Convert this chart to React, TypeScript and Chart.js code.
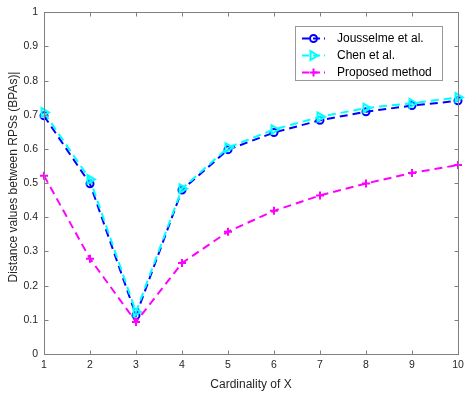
import React, { useEffect, useRef } from "react";
import { Chart, registerables } from "chart.js";

Chart.register(...registerables);

const cardinality = [1, 2, 3, 4, 5, 6, 7, 8, 9, 10];
const jousselme = [0.697, 0.498, 0.113, 0.48, 0.598, 0.648, 0.684, 0.709, 0.727, 0.741];
const chen = [0.707, 0.511, 0.123, 0.484, 0.604, 0.657, 0.694, 0.72, 0.734, 0.751];
const proposed = [0.522, 0.279, 0.094, 0.266, 0.358, 0.419, 0.464, 0.499, 0.53, 0.553];
const seriesNames = ["Jousselme et al.", "Chen et al.", "Proposed method"];
const xTitle = "Cardinality of X";
const yTitle = "Distance values between RPSs (BPAs)|";

const FONT = "'Liberation Sans', Arial, Helvetica, sans-serif";
const AXIS_COLOR = "#808080";
const TEXT_COLOR = "#262626";
const DASH = [8, 5];

function drawMarker(ctx: CanvasRenderingContext2D, kind: number, x: number, y: number, color: string) {
  ctx.save();
  ctx.setLineDash([]);
  ctx.strokeStyle = color;
  ctx.lineWidth = 2;
  ctx.beginPath();
  if (kind === 0) {
    ctx.arc(x, y, 3.5, 0, Math.PI * 2);
  } else if (kind === 1) {
    ctx.moveTo(x + 4.5, y);
    ctx.lineTo(x - 3, y - 4.5);
    ctx.lineTo(x - 3, y + 4.5);
    ctx.closePath();
  } else {
    ctx.moveTo(x - 4, y);
    ctx.lineTo(x + 4, y);
    ctx.moveTo(x, y - 4);
    ctx.lineTo(x, y + 4);
  }
  ctx.stroke();
  ctx.restore();
}

const framePlugin = {
  id: "frame",
  afterDraw(chart: any) {
    const ctx: CanvasRenderingContext2D = chart.ctx;
    const { left, right, top, bottom } = chart.chartArea;
    const xs = chart.scales.x;
    const ys = chart.scales.y;
    ctx.save();
    ctx.strokeStyle = AXIS_COLOR;
    ctx.lineWidth = 1;
    ctx.setLineDash([]);
    const L = Math.round(left) + 0.5, R = Math.round(right) + 0.5;
    const T = Math.round(top) + 0.5, B = Math.round(bottom) + 0.5;
    ctx.strokeRect(L, T, R - L, B - T);
    ctx.beginPath();
    xs.ticks.forEach((t: any) => {
      const px = Math.round(xs.getPixelForValue(t.value)) + 0.5;
      ctx.moveTo(px, B); ctx.lineTo(px, B - 4);
      ctx.moveTo(px, T); ctx.lineTo(px, T + 4);
    });
    ys.ticks.forEach((t: any) => {
      const py = Math.round(ys.getPixelForValue(t.value)) + 0.5;
      ctx.moveTo(L, py); ctx.lineTo(L + 4, py);
      ctx.moveTo(R, py); ctx.lineTo(R - 4, py);
    });
    ctx.stroke();

    // axis titles
    ctx.fillStyle = TEXT_COLOR;
    ctx.font = `12px ${FONT}`;
    ctx.textAlign = "center";
    ctx.textBaseline = "middle";
    ctx.fillText(xTitle, (left + right) / 2, 385);
    ctx.save();
    ctx.translate(14, 177);
    ctx.rotate(-Math.PI / 2);
    ctx.fillText(yTitle, 0, 0);
    ctx.restore();

    // legend
    const bx = 295.5, by = 26.5, bw = 147, bh = 54;
    ctx.fillStyle = "#ffffff";
    ctx.fillRect(bx, by, bw, bh);
    ctx.strokeStyle = "#999999";
    ctx.strokeRect(bx, by, bw, bh);
    const colors = ["#0000ff", "#00ffff", "#ff00ff"];
    seriesNames.forEach((name, i) => {
      const yy = 38.5 + i * 17;
      ctx.save();
      ctx.strokeStyle = colors[i];
      ctx.lineWidth = 2;
      ctx.setLineDash([7, 4]);
      ctx.beginPath();
      ctx.moveTo(302, yy);
      ctx.lineTo(325, yy);
      ctx.stroke();
      ctx.restore();
      drawMarker(ctx, i, 313.5, yy, colors[i]);
      ctx.fillStyle = "#000000";
      ctx.font = `12px ${FONT}`;
      ctx.textAlign = "left";
      ctx.textBaseline = "middle";
      ctx.fillText(name, 337, yy);
    });
    ctx.restore();
  },
};

export default function App() {
  const ref = useRef<HTMLCanvasElement>(null);
  useEffect(() => {
    if (!ref.current) return;
    const mk = (vals: number[]) => cardinality.map((c, i) => ({ x: c, y: vals[i] }));
    const chart = new Chart(ref.current, {
      type: "line",
      data: {
        datasets: [
          {
            label: seriesNames[0],
            data: mk(jousselme),
            borderColor: "#0000ff",
            backgroundColor: "rgba(0,0,0,0)",
            borderWidth: 2,
            borderDash: DASH,
            pointStyle: "circle",
            pointRadius: 3.5,
            pointBorderWidth: 2,
            pointBorderColor: "#0000ff",
            pointBackgroundColor: "rgba(0,0,0,0)",
            tension: 0,
            clip: false as any,
            order: 3,
          },
          {
            label: seriesNames[1],
            data: mk(chen),
            borderColor: "#00ffff",
            backgroundColor: "rgba(0,0,0,0)",
            borderWidth: 2,
            borderDash: DASH,
            pointStyle: "triangle",
            pointRotation: 90,
            pointRadius: 5,
            pointBorderWidth: 2,
            pointBorderColor: "#00ffff",
            pointBackgroundColor: "rgba(0,0,0,0)",
            tension: 0,
            clip: false as any,
            order: 2,
          },
          {
            label: seriesNames[2],
            data: mk(proposed),
            borderColor: "#ff00ff",
            backgroundColor: "rgba(0,0,0,0)",
            borderWidth: 2,
            borderDash: DASH,
            pointStyle: "cross",
            pointRadius: 4,
            pointBorderWidth: 2,
            pointBorderColor: "#ff00ff",
            tension: 0,
            clip: false as any,
            order: 1,
          },
        ],
      },
      options: {
        responsive: false,
        animation: false,
        layout: { padding: { left: 0, right: 18, top: 11, bottom: 0 } },
        plugins: { legend: { display: false }, tooltip: { enabled: false } },
        scales: {
          x: {
            type: "linear",
            min: 1,
            max: 10,
            ticks: {
              stepSize: 1,
              padding: 5,
              color: TEXT_COLOR,
              font: { family: FONT, size: 10.5 },
              maxRotation: 0,
            },
            grid: { display: false, drawTicks: false },
            border: { display: false },
            afterFit: (s: any) => { s.height = 41; },
          },
          y: {
            type: "linear",
            min: 0,
            max: 1,
            ticks: {
              stepSize: 0.1,
              padding: 6,
              color: TEXT_COLOR,
              font: { family: FONT, size: 10.5 },
              callback: (v: any) => String(Number(Number(v).toFixed(1))),
            },
            grid: { display: false, drawTicks: false },
            border: { display: false },
            afterFit: (s: any) => { s.width = 44; },
          },
        },
      },
      plugins: [framePlugin],
    });
    return () => chart.destroy();
  }, []);
  return (
    <div style={{ position: "fixed", left: 0, top: 0, width: 476, height: 395, background: "#fff" }}>
      <canvas ref={ref} width={476} height={395} style={{ display: "block" }} />
    </div>
  );
}
